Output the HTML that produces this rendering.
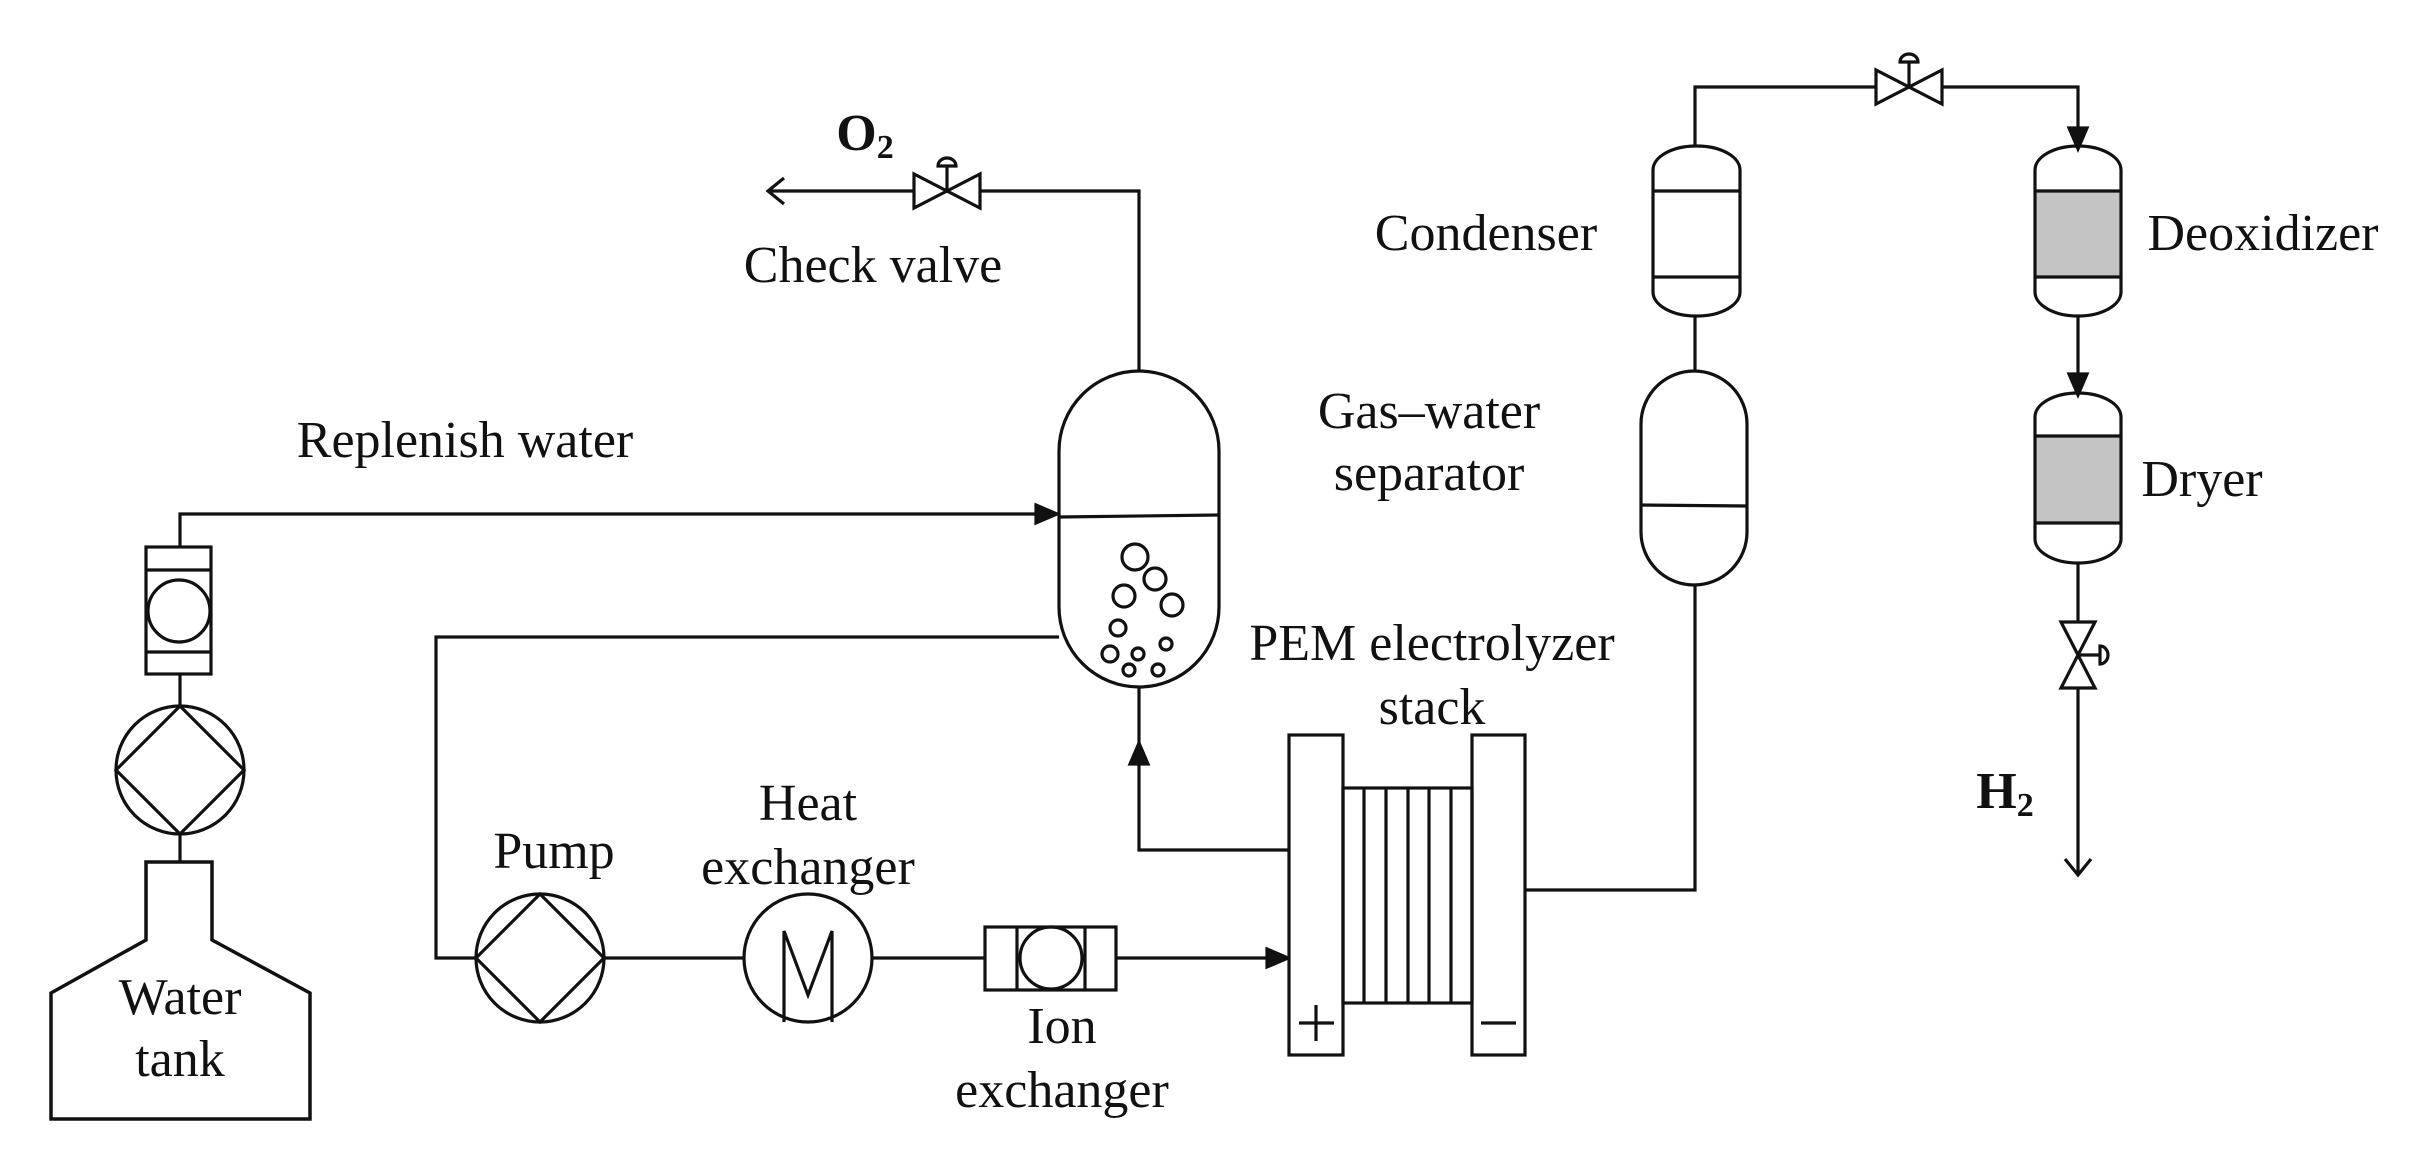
<!DOCTYPE html>
<html><head><style>html,body{margin:0;padding:0;background:#fff}svg{display:block}
text{font-family:"Liberation Serif",serif;font-size:52px;fill:#111}</style></head>
<body>
<svg width="2414" height="1152" viewBox="0 0 2414 1152" xmlns="http://www.w3.org/2000/svg">
<g fill="none" stroke="#111" stroke-width="3.2">
<!-- O2 line -->
<polyline points="1139,371 1139,191 768,191"/>
<polyline points="784,178 768,191 784,204"/>
<!-- O2 valve -->
<path d="M914,174 L914,208 L980,174 L980,208 Z" fill="#fff"/>
<line x1="947" y1="191" x2="947" y2="166"/>
<path d="M938,166 A9,8 0 0 1 956,166 Z" fill="#fff"/>
<!-- oxygen tank -->
<rect x="1059" y="371" width="160" height="316" rx="80" ry="80" fill="#fff"/>
<line x1="1059" y1="517" x2="1219" y2="515"/>
<circle cx="1135" cy="557" r="13"/><circle cx="1155" cy="579" r="11"/>
<circle cx="1124" cy="596" r="11"/><circle cx="1172" cy="605" r="11"/>
<circle cx="1118" cy="628" r="8"/><circle cx="1166" cy="644" r="6"/>
<circle cx="1110" cy="654" r="8"/><circle cx="1138" cy="654" r="6"/>
<circle cx="1129" cy="670" r="6"/><circle cx="1158" cy="670" r="6"/>
<!-- replenish line -->
<polyline points="180,547 180,514 1040,514"/>
<path d="M1036,505 L1057,514 L1036,523 Z" fill="#111"/>
<!-- vertical ion exchanger -->
<rect x="146" y="547" width="65" height="127" fill="#fff"/>
<line x1="146" y1="570" x2="211" y2="570"/><line x1="146" y1="652" x2="211" y2="652"/>
<circle cx="179" cy="611" r="31"/>
<line x1="180" y1="674" x2="180" y2="705"/>
<!-- left pump -->
<circle cx="180" cy="770" r="64"/>
<path d="M180,706 L244,770 L180,834 L116,770 Z"/>
<line x1="180" y1="834" x2="180" y2="862"/>
<!-- water tank -->
<path d="M146,862 L212,862 L212,940 L310,993 L310,1119 L51,1119 L51,993 L146,940 Z" stroke-width="3.5"/>
<!-- return line -->
<polyline points="1059,637 436,637 436,958 476,958"/>
<!-- pump 2 -->
<circle cx="540" cy="958" r="64"/>
<path d="M540,894 L604,958 L540,1022 L476,958 Z"/>
<line x1="604" y1="958" x2="744" y2="958"/>
<!-- heat exchanger -->
<circle cx="808" cy="958" r="64"/>
<polyline points="784,1022 784,931 808,995 832,931 832,1022"/>
<line x1="872" y1="958" x2="985" y2="958"/>
<!-- horizontal ion exchanger -->
<rect x="985" y="927" width="131" height="63" fill="#fff"/>
<line x1="1017" y1="927" x2="1017" y2="990"/><line x1="1085" y1="927" x2="1085" y2="990"/>
<circle cx="1051" cy="958" r="31"/>
<line x1="1116" y1="958" x2="1270" y2="958"/>
<path d="M1267,949 L1288,958 L1267,967 Z" fill="#111"/>
<!-- up line -->
<polyline points="1289,850 1139,850 1139,687"/>
<path d="M1130,764 L1139,743 L1148,764 Z" fill="#111"/>
<!-- stack -->
<rect x="1289" y="735" width="54" height="320" fill="#fff"/>
<rect x="1472" y="735" width="53" height="320" fill="#fff"/>
<rect x="1343" y="788" width="129" height="215"/>
<line x1="1364" y1="788" x2="1364" y2="1003"/><line x1="1386" y1="788" x2="1386" y2="1003"/>
<line x1="1408" y1="788" x2="1408" y2="1003"/><line x1="1429" y1="788" x2="1429" y2="1003"/>
<line x1="1451" y1="788" x2="1451" y2="1003"/>
<line x1="1299" y1="1023" x2="1334" y2="1023"/><line x1="1316" y1="1005" x2="1316" y2="1041"/>
<line x1="1481" y1="1023" x2="1516" y2="1023"/>
<!-- output to separator -->
<polyline points="1525,890 1695,890 1695,585"/>
<!-- separator -->
<rect x="1641" y="371" width="106" height="214" rx="53" ry="53" fill="#fff"/>
<line x1="1641" y1="505" x2="1747" y2="506"/>
<line x1="1695" y1="371" x2="1695" y2="316"/>
<!-- condenser -->
<rect x="1653" y="146" width="87" height="170" rx="43" ry="24" fill="#fff"/>
<line x1="1653" y1="191" x2="1740" y2="191"/><line x1="1653" y1="277" x2="1740" y2="277"/>
<!-- top line -->
<polyline points="1695,146 1695,87 2078,87 2078,132"/>
<path d="M2069,128 L2078,149 L2087,128 Z" fill="#111"/>
<path d="M1876,70 L1876,104 L1942,70 L1942,104 Z" fill="#fff"/>
<line x1="1909" y1="87" x2="1909" y2="62"/>
<path d="M1900,62 A9,8 0 0 1 1918,62 Z" fill="#fff"/>
<!-- deoxidizer -->
<rect x="2035" y="191" width="86" height="86" fill="#c4c4c4" stroke="none"/>
<rect x="2035" y="146" width="86" height="170" rx="43" ry="24"/>
<line x1="2035" y1="191" x2="2121" y2="191"/><line x1="2035" y1="277" x2="2121" y2="277"/>
<line x1="2078" y1="316" x2="2078" y2="378"/>
<path d="M2069,374 L2078,395 L2087,374 Z" fill="#111"/>
<!-- dryer -->
<rect x="2035" y="436" width="86" height="87" fill="#c4c4c4" stroke="none"/>
<rect x="2035" y="393" width="86" height="170" rx="43" ry="24"/>
<line x1="2035" y1="436" x2="2121" y2="436"/><line x1="2035" y1="523" x2="2121" y2="523"/>
<!-- bottom valve + H2 line -->
<line x1="2078" y1="563" x2="2078" y2="875"/>
<path d="M2061,622 L2095,622 L2061,688 L2095,688 Z" fill="#fff"/>
<line x1="2078" y1="655" x2="2100" y2="655"/>
<path d="M2100,646 A8,9 0 0 1 2100,664 Z" fill="#fff"/>
<polyline points="2065,859 2078,875 2091,859"/>
</g>
<g>
<text x="865" y="150" text-anchor="middle" font-weight="bold">O<tspan font-size="34" dy="8">2</tspan></text>
<text x="873" y="282" text-anchor="middle">Check valve</text>
<text x="465" y="457" text-anchor="middle">Replenish water</text>
<text x="180" y="1014" text-anchor="middle">Water</text>
<text x="180" y="1076" text-anchor="middle">tank</text>
<text x="554" y="868" text-anchor="middle">Pump</text>
<text x="808" y="820" text-anchor="middle">Heat</text>
<text x="808" y="884" text-anchor="middle">exchanger</text>
<text x="1062" y="1043" text-anchor="middle">Ion</text>
<text x="1062" y="1107" text-anchor="middle">exchanger</text>
<text x="1432" y="660" text-anchor="middle">PEM electrolyzer</text>
<text x="1432" y="724" text-anchor="middle">stack</text>
<text x="1486" y="250" text-anchor="middle">Condenser</text>
<text x="1429" y="428" text-anchor="middle">Gas–water</text>
<text x="1429" y="490" text-anchor="middle">separator</text>
<text x="2263" y="250" text-anchor="middle">Deoxidizer</text>
<text x="2202" y="496" text-anchor="middle">Dryer</text>
<text x="2005" y="808" text-anchor="middle" font-weight="bold">H<tspan font-size="34" dy="8">2</tspan></text>
</g>
</svg>
</body></html>
